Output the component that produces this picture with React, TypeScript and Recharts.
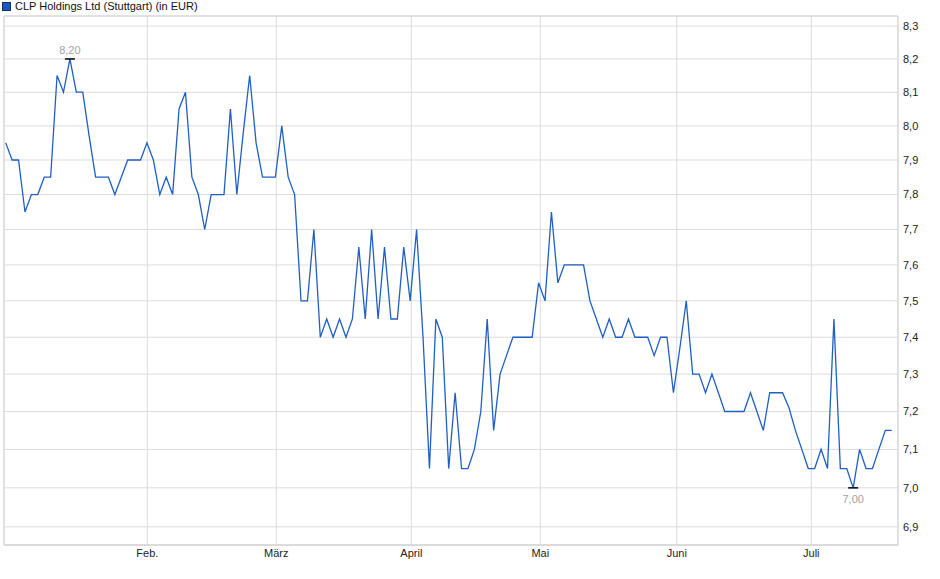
import { LineChart, Line, CartesianGrid, XAxis, YAxis, ReferenceArea } from 'recharts'

const prices = [
  7.95, 7.9, 7.9, 7.75, 7.8, 7.8, 7.85, 7.85, 8.15, 8.1,
  8.2, 8.1, 8.1, 7.97, 7.85, 7.85, 7.85, 7.8, 7.85, 7.9,
  7.9, 7.9, 7.95, 7.9, 7.8, 7.85, 7.8, 8.05, 8.1, 7.85,
  7.8, 7.7, 7.8, 7.8, 7.8, 8.05, 7.8, 7.98, 8.15, 7.95,
  7.85, 7.85, 7.85, 8.0, 7.85, 7.8, 7.5, 7.5, 7.7, 7.4,
  7.45, 7.4, 7.45, 7.4, 7.45, 7.65, 7.45, 7.7, 7.45, 7.65,
  7.45, 7.45, 7.65, 7.5, 7.7, 7.4, 7.05, 7.45, 7.4, 7.05,
  7.25, 7.05, 7.05, 7.1, 7.2, 7.45, 7.15, 7.3, 7.35, 7.4,
  7.4, 7.4, 7.4, 7.55, 7.5, 7.75, 7.55, 7.6, 7.6, 7.6,
  7.6, 7.5, 7.45, 7.4, 7.45, 7.4, 7.4, 7.45, 7.4, 7.4,
  7.4, 7.35, 7.4, 7.4, 7.25, 7.37, 7.5, 7.3, 7.3, 7.25,
  7.3, 7.25, 7.2, 7.2, 7.2, 7.2, 7.25, 7.2, 7.15, 7.25,
  7.25, 7.25, 7.21, 7.15, 7.1, 7.05, 7.05, 7.1, 7.05, 7.45,
  7.05, 7.05, 7.0, 7.1, 7.05, 7.05, 7.1, 7.15, 7.15,
]

// month starts, in trading-day units
const monthTicks = [22.06, 42.15, 63.18, 83.27, 104.52, 125.48]
const monthLabels = ['Feb.', 'März', 'April', 'Mai', 'Juni', 'Juli']

const priceTicks = [6.9, 7.0, 7.1, 7.2, 7.3, 7.4, 7.5, 7.6, 7.7, 7.8, 7.9, 8.0, 8.1, 8.2, 8.3]

const data = prices.map((p, i) => ({ i, p }))

const X_DOMAIN: [number, number] = [-0.265, 138.98]
const Y_DOMAIN: [number, number] = [6.854, 8.331]

const maxVal = Math.max(...prices)
const minVal = Math.min(...prices)
const maxIdx = prices.indexOf(maxVal)
const minIdx = prices.lastIndexOf(minVal)

const FONT = '"Liberation Sans", Arial, sans-serif'
const fmt = (v: number, d = 1) => v.toFixed(d).replace('.', ',')

function ExtremeDot(props: any) {
  const { cx, cy, index } = props
  if (index !== maxIdx && index !== minIdx) return null
  const isMax = index === maxIdx
  return (
    <g key={`ext-${index}`}>
      <line x1={cx - 5} x2={cx + 5} y1={cy} y2={cy} stroke="#000" strokeWidth={1.5} />
      <text
        x={cx}
        y={isMax ? cy - 4.5 : cy + 15}
        textAnchor="middle"
        fontSize={11}
        fontFamily={FONT}
        fill="#a3a3a3"
      >
        {fmt(isMax ? maxVal : minVal, 2)}
      </text>
    </g>
  )
}

function LegendBox() {
  return (
    <div
      style={{
        position: 'absolute',
        top: 0,
        left: 2,
        display: 'flex',
        alignItems: 'center',
        fontFamily: FONT,
        fontSize: 11,
        lineHeight: '13px',
        color: '#111',
      }}
    >
      <span
        style={{
          display: 'inline-block',
          width: 7,
          height: 7,
          background: '#1a56c4',
          border: '1px solid #1b2f5c',
          marginRight: 4,
        }}
      />
      CLP Holdings Ltd (Stuttgart) (in EUR)
    </div>
  )
}

export default function App() {
  return (
    <div style={{ position: 'relative', width: 940, height: 579, background: '#fff' }}>
      <style>{'body{margin:0}'}</style>
      <LineChart width={940} height={579} data={data} margin={{ top: 16, right: 0, left: 4, bottom: 0 }}>
        <CartesianGrid stroke="#dcdcdc" strokeWidth={1} />
        <ReferenceArea
          x1={X_DOMAIN[0]}
          x2={X_DOMAIN[1]}
          y1={Y_DOMAIN[0]}
          y2={Y_DOMAIN[1]}
          fill="none"
          stroke="#d4d4d4"
          ifOverflow="visible"
        />
        <XAxis
          type="number"
          dataKey="i"
          domain={X_DOMAIN}
          allowDataOverflow
          ticks={monthTicks}
          tickFormatter={(v: number) => monthLabels[monthTicks.indexOf(v)] ?? ''}
          height={34}
          axisLine={{ stroke: '#d4d4d4' }}
          tickLine={false}
          tickSize={2}
          tickMargin={2}
          tick={{ fontSize: 11, fontFamily: FONT, fill: '#222' }}
          interval={0}
        />
        <YAxis
          orientation="right"
          scale="log"
          domain={Y_DOMAIN}
          allowDataOverflow
          ticks={priceTicks}
          tickFormatter={(v: number) => fmt(v)}
          width={42}
          axisLine={false}
          tickLine={false}
          tickSize={3}
          tickMargin={2}
          tick={{ fontSize: 11, fontFamily: FONT, fill: '#222', textAnchor: 'start' }}
          interval={0}
        />
        <Line
          type="linear"
          dataKey="p"
          stroke="#1f5fc4"
          strokeWidth={1.3}
          dot={<ExtremeDot />}
          activeDot={false}
          isAnimationActive={false}
        />
      </LineChart>
      <LegendBox />
    </div>
  )
}
